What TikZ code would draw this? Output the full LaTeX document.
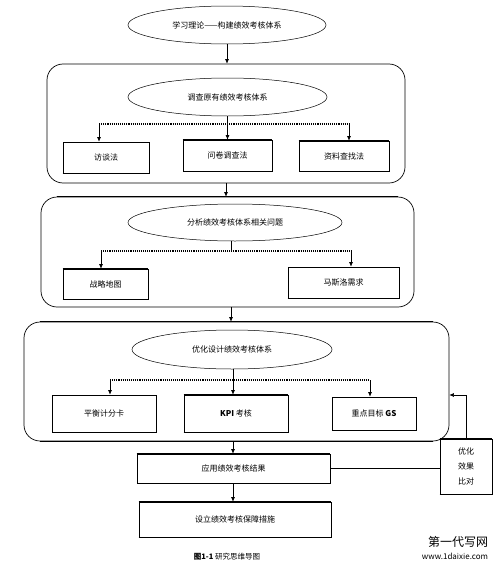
\documentclass[tikz,border=0pt]{standalone}
\usepackage{fontspec}
\setmainfont{Noto Sans CJK SC}
\usetikzlibrary{shapes.geometric,arrows.meta}
\begin{document}
\begin{tikzpicture}[x=1pt,y=-1pt,
 font=\fontsize{8}{10}\selectfont,
 oval/.style={draw,ellipse,line width=0.5pt,inner sep=0pt},
 box/.style={draw,line width=0.7pt,inner sep=0pt},
 cont/.style={draw,line width=0.7pt,rounded corners=16pt,inner sep=0pt},
 arr/.style={-{Latex[length=4.5pt,width=4pt]},line width=0.6pt},
 branch/.style={line width=1.1pt,densely dotted},
 thk/.style={line width=1.6pt}
 ]
\useasboundingbox (0,0) rectangle (497,570);
% containers
\node[cont,minimum width=358pt,minimum height=119pt] (c1) at (226,123.5) {};
\node[cont,minimum width=373pt,minimum height=110pt] (c2) at (227.5,252) {};
\node[cont,minimum width=425pt,minimum height=119pt] (c3) at (236.5,381.5) {};
% ellipses
\node[oval,minimum width=198pt,minimum height=38pt] (e1) at (227,25) {学习理论——构建绩效考核体系};
\node[oval,minimum width=199pt,minimum height=38pt] (e2) at (227.5,97) {调查原有绩效考核体系};
\node[oval,minimum width=214pt,minimum height=37pt] (e3) at (235,222.5) {分析绩效考核体系相关问题};
\node[oval,minimum width=200pt,minimum height=39pt] (e4) at (232,349.5) {优化设计绩效考核体系};
% boxes
\node[box,minimum width=86pt,minimum height=31pt] (b11) at (106,157.5) {访谈法};
\node[box,minimum width=89pt,minimum height=31pt] (b12) at (227.5,155.5) {问卷调查法};
\node[box,minimum width=90pt,minimum height=30pt] (b13) at (344,156) {资料查找法};
\node[box,minimum width=85pt,minimum height=30pt] (b21) at (105.5,284) {战略地图};
\node[box,minimum width=111pt,minimum height=31pt] (b22) at (343.5,282.5) {马斯洛需求};
\node[box,minimum width=104pt,minimum height=37pt] (b31) at (104,413.5) {平衡计分卡};
\node[box,minimum width=104pt,minimum height=37pt] (b32) at (236,413.5) {\textbf{KPI} 考核};
\node[box,minimum width=84pt,minimum height=33pt] (b33) at (374,413.5) {重点目标 \textbf{GS}};
\node[box,minimum width=193pt,minimum height=29pt] (b4) at (233.5,468.5) {应用绩效考核结果};
\node[box,minimum width=192pt,minimum height=35pt] (b5) at (235,519.5) {设立绩效考核保障措施};
\node[box,minimum width=52pt,minimum height=55pt,align=center,font=\fontsize{8}{15}\selectfont] (b6) at (466,466.5) {优化\\效果\\比对};
% thick edges
\foreach \n in {b12,b13,b21,b32,b4,b5,b6} \draw[thk] (\n.north west) -- (\n.north east);
\foreach \n in {b11,b21,b22,b32,b5,b6} \draw[thk] (\n.south west) -- (\n.south east);
\draw[thk] ([xshift=16pt]c2.north west) -- ([xshift=-16pt]c2.north east);
\draw[thk] ([xshift=16pt]c3.north west) -- ([xshift=-16pt]c3.north east);
\draw[thk] ([xshift=16pt]c3.south west) -- ([xshift=-16pt]c3.south east);
% connectors level 1
\draw[arr] (e1.south) -- (e1.south |- c1.north);
\coordinate (d11) at (99,124);
\coordinate (d13) at (349,124);
\draw[branch] (d11) -- (d13);
\draw[arr] (e2.south) -- (e2.south |- b12.north);
\draw[arr] (d11) -- (d11 |- b11.north);
\draw[arr] (d13) -- (d13 |- b13.north);
\draw[arr] (c1.south) -- (c1.south |- c2.north);
% level 2
\coordinate (s2) at (231,251);
\coordinate (d21) at (101,251);
\coordinate (d22) at (351,251);
\draw[branch] (d21) -- (d22);
\draw[line width=0.6pt] (s2 |- e3.south) -- (s2);
\draw[arr] (d21) -- (d21 |- b21.north);
\draw[arr] (d22) -- (d22 |- b22.north);
\draw[arr] (s2 |- c2.south) -- (s2 |- c3.north);
% level 3
\coordinate (s3) at (233,380);
\coordinate (d31) at (110,380);
\coordinate (d33) at (370,380);
\draw[branch] (d31) -- (d33);
\draw[arr] (s3 |- e4.south) -- (s3 |- b32.north);
\draw[arr] (d31) -- (d31 |- b31.north);
\draw[arr] (d33) -- (d33 |- b33.north);
\draw[arr] (s3 |- c3.south) -- (s3 |- b4.north);
\draw[arr] (s3 |- b4.south) -- (s3 |- b5.north);
% feedback
\draw[line width=0.6pt] (b4.east) -- (b4.east -| b6.west);
\coordinate (fb) at (466,395);
\draw[arr] (b6.north) -- (fb) -- (fb -| c3.east);
% caption and mark
\node[font=\fontsize{7.5}{9}\selectfont] (cap) at (227,557) {\textbf{图1-1} 研究思维导图};
\node[font=\fontsize{12}{12}\selectfont] (wm1) at (458,542) {第一代写网};
\node[font=\fontsize{8}{9}\selectfont] (wm2) at (455,556) {www.1daixie.com};
\end{tikzpicture}
\end{document}
